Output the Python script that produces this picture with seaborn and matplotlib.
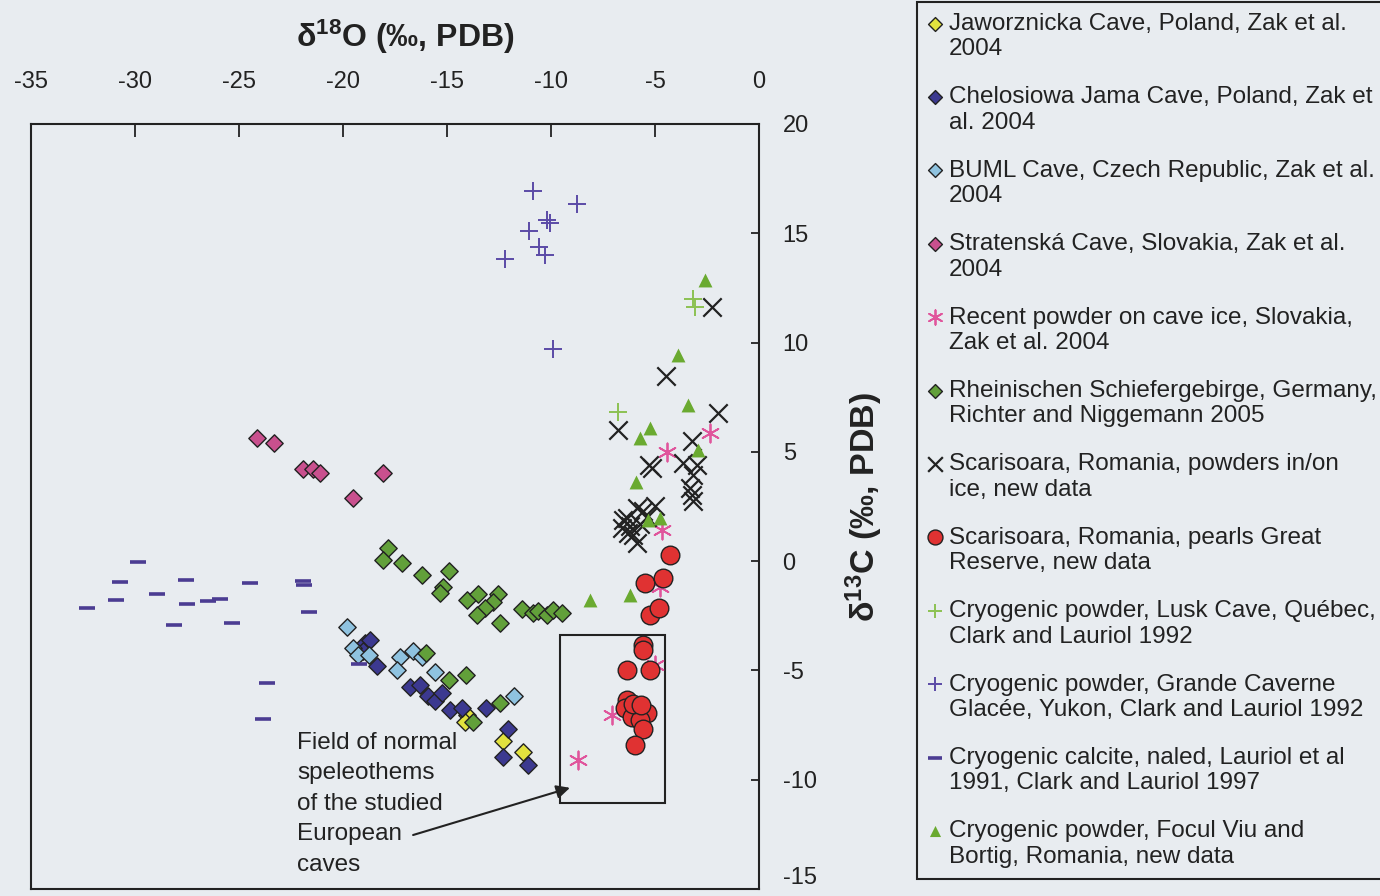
import matplotlib
matplotlib.use("Agg")
import matplotlib.pyplot as plt
from matplotlib.patches import Rectangle
import seaborn as sns

sns.set_theme(style="white")
plt.rcParams["font.family"] = ["Liberation Sans", "DejaVu Sans"]
plt.rcParams["mathtext.fontset"] = "custom"
plt.rcParams["mathtext.rm"] = "Liberation Sans"
plt.rcParams["mathtext.bf"] = "Liberation Sans:bold"
plt.rcParams["mathtext.it"] = "Liberation Sans:italic"
plt.rcParams["axes.unicode_minus"] = False

BG = "#e8ecf0"
INK = "#222222"

# ---------------- data (delta18O, delta13C) ----------------
jaw_x = [-14.05, -14.13, -12.33, -11.33]
jaw_y = [-7.04, -7.34, -8.25, -8.71]

chel_x = [-18.94, -18.70, -19.05, -18.38, -16.78, -16.30, -15.90, -15.58, -15.26, -14.86, -14.30, -13.13, -12.05, -12.29, -11.09]
chel_y = [-3.76, -3.60, -4.10, -4.82, -5.74, -5.66, -6.19, -6.42, -6.04, -6.81, -6.73, -6.73, -7.67, -8.97, -9.32]

buml_x = [-19.82, -19.50, -19.26, -18.73, -17.26, -16.62, -16.22, -17.42, -15.58, -11.80]
buml_y = [-3.02, -3.98, -4.29, -4.29, -4.40, -4.09, -4.40, -4.98, -5.05, -6.19]

strat_x = [-24.12, -23.32, -21.91, -21.43, -21.11, -19.50, -18.08]
strat_y = [5.62, 5.39, 4.22, 4.22, 4.02, 2.88, 4.02]

recent_x = [-2.36, -4.44, -4.68, -4.76, -5.00, -7.08, -8.69]
recent_y = [5.86, 5.01, 1.43, -1.17, -4.75, -7.04, -9.09]

rhein_x = [-17.82, -18.06, -17.18, -16.22, -14.89, -15.18, -15.34, -14.05, -13.49, -12.53, -12.77, -13.17, -13.57,
           -12.45, -11.41, -10.85, -10.61, -10.21, -9.89, -9.49, -16.00, -14.89, -14.10, -13.73, -12.45]
rhein_y = [0.59, 0.05, -0.10, -0.63, -0.43, -1.17, -1.44, -1.78, -1.50, -1.50, -1.85, -2.16, -2.46,
           -2.81, -2.20, -2.38, -2.26, -2.46, -2.23, -2.38, -4.21, -5.46, -5.20, -7.34, -6.47]

scar_x = [-2.24, -4.47, -1.96, -6.76, -5.30, -5.15, -3.24, -3.64, -3.00, -3.16, -3.32, -3.24, -3.16,
          -5.88, -5.00, -5.40, -5.56, -6.36, -6.52, -6.60, -6.28, -6.04, -5.88, -6.20, -5.70]
scar_y = [11.64, 8.49, 6.77, 6.00, 4.40, 4.25, 5.49, 4.48, 4.40, 3.94, 3.33, 3.03, 2.77,
          2.42, 2.50, 2.04, 2.30, 1.96, 1.90, 1.50, 1.28, 1.20, 0.85, 1.60, 1.70]

pearl_x = [-4.28, -5.48, -4.60, -5.24, -4.79, -5.56, -5.59, -6.33, -5.24, -6.36, -6.44, -5.91, -5.40,
           -6.12, -5.72, -5.59, -5.96, -6.05, -5.65]
pearl_y = [0.28, -1.01, -0.78, -2.46, -2.16, -3.83, -4.06, -4.98, -5.00, -6.35, -6.73, -6.77, -6.95,
           -7.11, -7.26, -7.69, -8.41, -6.55, -6.60]

lusk_x = [-3.19, -3.08, -6.76]
lusk_y = [11.98, 11.62, 6.81]

yukon_x = [-10.88, -8.77, -10.18, -10.05, -11.04, -10.56, -10.29, -12.21, -9.92]
yukon_y = [16.95, 16.33, 15.61, 15.49, 15.12, 14.39, 14.01, 13.81, 9.71]

naled_x = [-29.84, -30.72, -27.56, -24.47, -21.91, -21.86, -28.93, -30.91, -32.32, -27.51, -26.47, -25.91,
           -21.62, -28.13, -25.35, -23.67, -23.86, -19.22]
naled_y = [-0.05, -0.97, -0.88, -1.00, -0.93, -1.11, -1.51, -1.78, -2.16, -1.96, -1.82, -1.75,
           -2.31, -2.92, -2.81, -5.56, -7.23, -4.70]

focul_x = [-2.60, -3.88, -3.40, -5.24, -5.72, -2.92, -5.91, -5.32, -4.76, -8.13, -6.20]
focul_y = [12.86, 9.43, 7.15, 6.08, 5.62, 5.09, 3.64, 1.89, 1.96, -1.78, -1.55]

labels = [
    "Jaworznicka Cave, Poland, Zak et al.\n2004",
    "Chelosiowa Jama Cave, Poland, Zak et\nal. 2004",
    "BUML Cave, Czech Republic, Zak et al.\n2004",
    "Stratenská Cave, Slovakia, Zak et al.\n2004",
    "Recent powder on cave ice, Slovakia,\nZak et al. 2004",
    "Rheinischen Schiefergebirge, Germany,\nRichter and Niggemann 2005",
    "Scarisoara, Romania, powders in/on\nice, new data",
    "Scarisoara, Romania, pearls Great\nReserve, new data",
    "Cryogenic powder, Lusk Cave, Québec,\nClark and Lauriol 1992",
    "Cryogenic powder, Grande Caverne\nGlacée, Yukon, Clark and Lauriol 1992",
    "Cryogenic calcite, naled, Lauriol et al\n1991, Clark and Lauriol 1997",
    "Cryogenic powder, Focul Viu and\nBortig, Romania, new data",
]

x_ticks = [-35, -30, -25, -20, -15, -10, -5, 0]
y_ticks = [-15, -10, -5, 0, 5, 10, 15, 20]

# "field of normal speleothems" box (x0, y0, width, height) in data units
field_box = (-9.57, -11.06, 5.05, 7.68)

# ---------------- figure ----------------
fig = plt.figure(figsize=(13.8, 8.96), dpi=100, facecolor=BG)
ax = fig.add_axes([31 / 1380, 1 - 889 / 896, (759 - 31) / 1380, (889 - 124) / 896])
ax.set_facecolor(BG)

series = [
    (jaw_x, jaw_y, dict(marker="D", s=78, color="#e2e23e", edgecolor=INK, linewidth=1.0)),
    (chel_x, chel_y, dict(marker="D", s=78, color="#3c3990", edgecolor=INK, linewidth=1.0)),
    (buml_x, buml_y, dict(marker="D", s=78, color="#8fc3e0", edgecolor=INK, linewidth=1.0)),
    (strat_x, strat_y, dict(marker="D", s=78, color="#c9508e", edgecolor=INK, linewidth=1.0)),
    (recent_x, recent_y, dict(marker=(6, 2, 0), s=170, color="#e0559c", linewidth=1.3)),
    (rhein_x, rhein_y, dict(marker="D", s=78, color="#62a03a", edgecolor=INK, linewidth=1.0)),
    (scar_x, scar_y, dict(marker="x", s=175, color=INK, linewidth=1.6)),
    (pearl_x, pearl_y, dict(marker="o", s=180, color="#e03232", edgecolor=INK, linewidth=1.0)),
    (lusk_x, lusk_y, dict(marker="+", s=170, color="#8cc152", linewidth=1.4)),
    (yukon_x, yukon_y, dict(marker="+", s=170, color="#5b4aa6", linewidth=1.4)),
    (naled_x, naled_y, dict(marker="_", s=140, color="#4b3c92", linewidth=2.6)),
    (focul_x, focul_y, dict(marker="^", s=100, color="#6aaa30", linewidth=0)),
]

for (xs, ys, kw), lab in zip(series, labels):
    sns.scatterplot(x=xs, y=ys, ax=ax, label=lab, zorder=3, **kw)

if ax.get_legend() is not None:
    ax.get_legend().remove()

ax.set_xlim(-35, 0)
ax.set_ylim(-15, 20)
ax.set_xticks(x_ticks)
ax.set_yticks(y_ticks)
ax.set_xticklabels([str(t) for t in x_ticks])
ax.set_yticklabels([str(t) for t in y_ticks])
ax.xaxis.tick_top()
ax.yaxis.tick_right()
ax.tick_params(axis="x", direction="in", length=9, width=1.3, pad=22, labelsize=17, colors=INK)
ax.tick_params(axis="y", direction="in", length=6, width=1.3, pad=17, labelsize=17, colors=INK)
ax.set_xlabel("")
ax.set_ylabel("")
ax.grid(False)
for sp in ax.spines.values():
    sp.set_visible(True)
    sp.set_color(INK)
    sp.set_linewidth(1.5)
# nudge the bottom "-15" label up slightly so it stays inside the canvas
ax.get_yticklabels()[0].set_verticalalignment("bottom")

ax.add_patch(Rectangle(field_box[:2], field_box[2], field_box[3], fill=False,
                       edgecolor=INK, linewidth=1.5, zorder=2))
ax.text(-22.21, -11.1, "Field of normal\nspeleothems\nof the studied\nEuropean\ncaves",
        ha="left", va="center", fontsize=17.5, linespacing=1.5, color=INK, zorder=4)
ax.annotate("", xy=(-9.09, -10.37), xytext=(-16.63, -12.53),
            arrowprops=dict(arrowstyle="-|>", color=INK, lw=1.5, mutation_scale=20,
                            shrinkA=0, shrinkB=0), zorder=4)

fig.text(405 / 1380, 1 - 37 / 896, r"δ$^{\mathbf{18}}$O (‰, PDB)", ha="center", va="center",
         fontsize=23, fontweight="bold", color=INK)
fig.text(864 / 1380, 1 - 507 / 896, r"δ$^{\mathbf{13}}$C (‰, PDB)", ha="center", va="center",
         rotation=90, fontsize=24.5, fontweight="bold", color=INK)

handles, labs = ax.get_legend_handles_labels()
leg = fig.legend(handles, labs, loc="upper left", bbox_to_anchor=(917 / 1380, 1 - 2 / 896),
                 frameon=True, fancybox=False, edgecolor=INK, facecolor=BG, framealpha=1,
                 fontsize=17.5, markerscale=0.8, handlelength=0.6, handletextpad=0.25,
                 labelspacing=1.07, borderpad=0.45, borderaxespad=0)
leg.get_frame().set_linewidth(1.5)
for t in leg.get_texts():
    t.set_color(INK)
# align each legend marker with the first line of its label
for col in leg._legend_handle_box.get_children():
    for item in col.get_children():
        item.align = "top"

fig.savefig("out.png", dpi=100, facecolor=BG)
